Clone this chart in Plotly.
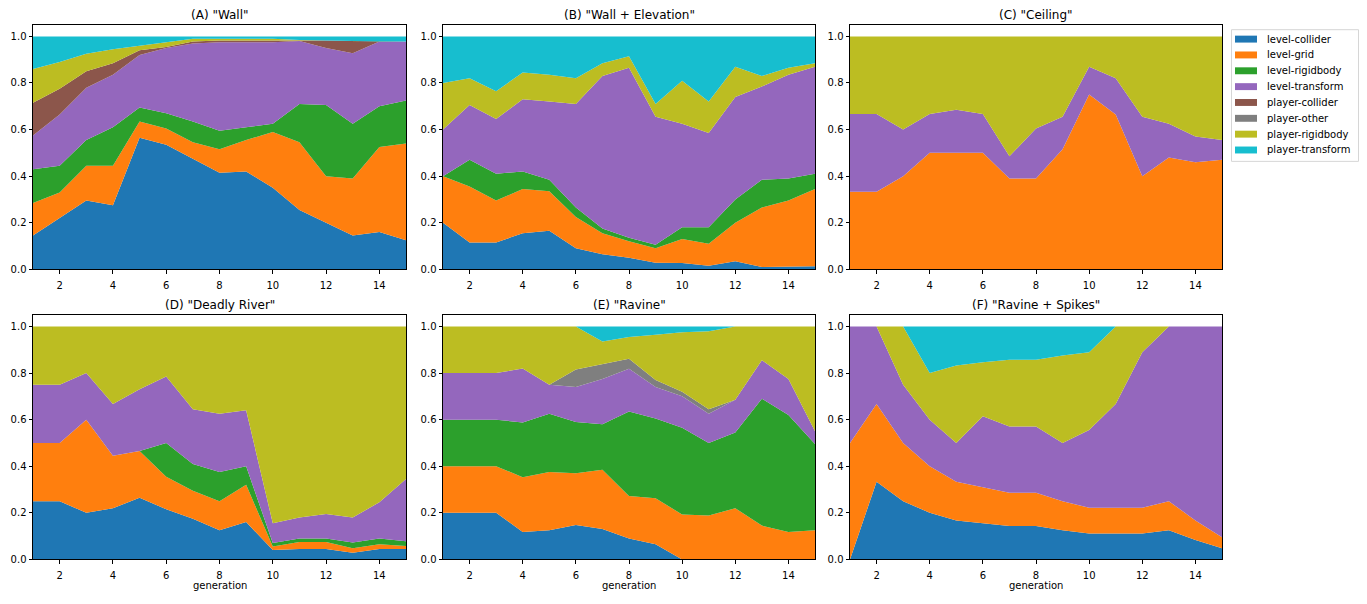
import plotly.graph_objects as go

generations = list(range(1, 16))
series_names = ["level-collider", "level-grid", "level-rigidbody", "level-transform",
                "player-collider", "player-other", "player-rigidbody", "player-transform"]
colors = ["#1f77b4", "#ff7f0e", "#2ca02c", "#9467bd", "#8c564b", "#7f7f7f", "#bcbd22", "#17becf"]
titles = ['(A) "Wall"', '(B) "Wall + Elevation"', '(C) "Ceiling"',
          '(D) "Deadly River"', '(E) "Ravine"', '(F) "Ravine + Spikes"']
x_ticks = [2, 4, 6, 8, 10, 12, 14]
y_ticks = [0.0, 0.2, 0.4, 0.6, 0.8, 1.0]

# cumulative (stacked) upper boundary of each series; None = series absent
panel_A = {
    "level-collider":   [0.145, 0.22, 0.295, 0.275, 0.565, 0.535, 0.475, 0.415, 0.42, 0.35, 0.255, 0.20, 0.145, 0.16, 0.125],
    "level-grid":       [0.285, 0.33, 0.445, 0.445, 0.635, 0.605, 0.545, 0.515, 0.555, 0.59, 0.545, 0.40, 0.39, 0.525, 0.54],
    "level-rigidbody":  [0.43, 0.445, 0.555, 0.61, 0.695, 0.67, 0.635, 0.595, 0.61, 0.625, 0.71, 0.705, 0.625, 0.70, 0.725],
    "level-transform":  [0.575, 0.665, 0.78, 0.835, 0.92, 0.95, 0.97, 0.975, 0.975, 0.975, 0.98, 0.95, 0.928, 0.978, 0.978],
    "player-collider":  [0.715, 0.775, 0.85, 0.885, 0.94, 0.955, 0.978, 0.982, 0.982, 0.982, 0.985, 0.982, 0.98, 0.978, 0.978],
    "player-other":     None,
    "player-rigidbody": [0.86, 0.89, 0.925, 0.945, 0.96, 0.975, 0.99, 0.99, 0.99, 0.99, 0.985, 0.982, 0.98, 0.978, 0.978],
    "player-transform": [1.0] * 15,
}
panel_B = {
    "level-collider":   [0.20, 0.115, 0.115, 0.155, 0.165, 0.09, 0.065, 0.05, 0.028, 0.027, 0.015, 0.035, 0.01, 0.012, 0.013],
    "level-grid":       [0.40, 0.355, 0.295, 0.345, 0.335, 0.225, 0.155, 0.12, 0.09, 0.13, 0.11, 0.20, 0.265, 0.295, 0.345],
    "level-rigidbody":  [0.40, 0.47, 0.41, 0.42, 0.385, 0.265, 0.175, 0.135, 0.105, 0.18, 0.18, 0.30, 0.385, 0.39, 0.41],
    "level-transform":  [0.60, 0.705, 0.645, 0.73, 0.72, 0.71, 0.83, 0.865, 0.655, 0.625, 0.585, 0.74, 0.785, 0.835, 0.87],
    "player-collider":  None,
    "player-other":     None,
    "player-rigidbody": [0.80, 0.82, 0.765, 0.845, 0.835, 0.82, 0.885, 0.915, 0.71, 0.81, 0.72, 0.87, 0.83, 0.865, 0.885],
    "player-transform": [1.0] * 15,
}
panel_C = {
    "level-collider":   None,
    "level-grid":       [0.333, 0.333, 0.40, 0.50, 0.50, 0.50, 0.39, 0.39, 0.515, 0.75, 0.665, 0.40, 0.48, 0.46, 0.47],
    "level-rigidbody":  None,
    "level-transform":  [0.667, 0.667, 0.60, 0.667, 0.685, 0.667, 0.485, 0.605, 0.655, 0.87, 0.82, 0.655, 0.625, 0.57, 0.555],
    "player-collider":  None,
    "player-other":     None,
    "player-rigidbody": [1.0] * 15,
    "player-transform": None,
}
panel_D = {
    "level-collider":   [0.25, 0.25, 0.20, 0.22, 0.265, 0.215, 0.175, 0.125, 0.16, 0.04, 0.045, 0.045, 0.028, 0.045, 0.045],
    "level-grid":       [0.50, 0.50, 0.60, 0.445, 0.465, 0.355, 0.295, 0.25, 0.32, 0.055, 0.075, 0.075, 0.048, 0.065, 0.058],
    "level-rigidbody":  [0.50, 0.50, 0.60, 0.445, 0.465, 0.50, 0.41, 0.375, 0.40, 0.07, 0.09, 0.09, 0.072, 0.09, 0.078],
    "level-transform":  [0.75, 0.75, 0.80, 0.667, 0.73, 0.785, 0.645, 0.625, 0.64, 0.155, 0.18, 0.195, 0.18, 0.245, 0.345],
    "player-collider":  None,
    "player-other":     None,
    "player-rigidbody": [1.0] * 15,
    "player-transform": None,
}
panel_E = {
    "level-collider":   [0.20, 0.20, 0.20, 0.118, 0.125, 0.148, 0.13, 0.09, 0.065, 0.0, 0.0, 0.0, 0.0, 0.0, 0.0],
    "level-grid":       [0.40, 0.40, 0.40, 0.353, 0.375, 0.37, 0.385, 0.272, 0.262, 0.193, 0.188, 0.22, 0.145, 0.118, 0.125],
    "level-rigidbody":  [0.60, 0.60, 0.60, 0.588, 0.625, 0.59, 0.58, 0.635, 0.605, 0.565, 0.50, 0.545, 0.69, 0.62, 0.495],
    "level-transform":  [0.80, 0.80, 0.80, 0.82, 0.75, 0.74, 0.775, 0.818, 0.74, 0.70, 0.625, 0.685, 0.855, 0.775, 0.55],
    "player-collider":  None,
    "player-other":     [0.80, 0.80, 0.80, 0.82, 0.75, 0.815, 0.838, 0.862, 0.77, 0.72, 0.645, 0.685, 0.855, 0.775, 0.55],
    "player-rigidbody": [1.0, 1.0, 1.0, 1.0, 1.0, 1.0, 0.935, 0.955, 0.965, 0.975, 0.98, 1.0, 1.0, 1.0, 1.0],
    "player-transform": [1.0] * 15,
}
panel_F = {
    "level-collider":   [0.0, 0.333, 0.25, 0.20, 0.167, 0.154, 0.143, 0.143, 0.125, 0.111, 0.111, 0.111, 0.125, 0.083, 0.048],
    "level-grid":       [0.50, 0.667, 0.50, 0.40, 0.333, 0.308, 0.286, 0.286, 0.25, 0.222, 0.222, 0.222, 0.25, 0.167, 0.095],
    "level-rigidbody":  None,
    "level-transform":  [1.0, 1.0, 0.75, 0.60, 0.50, 0.615, 0.571, 0.571, 0.50, 0.556, 0.667, 0.889, 1.0, 1.0, 1.0],
    "player-collider":  None,
    "player-other":     None,
    "player-rigidbody": [1.0, 1.0, 1.0, 0.80, 0.833, 0.846, 0.857, 0.857, 0.875, 0.889, 1.0, 1.0, 1.0, 1.0, 1.0],
    "player-transform": [1.0] * 15,
}
panels = [panel_A, panel_B, panel_C, panel_D, panel_E, panel_F]

W, H = 1367, 604
col_px = [(33, 406), (443, 815), (850, 1222)]
row_px = [(25, 272), (318, 565)]
FONT = "DejaVu Sans"


def px_x(p):
    return p / W


def px_y(p):
    return 1 - p / H


fig = go.Figure()
for i, panel in enumerate(panels):
    r, c = divmod(i, 3)
    ax = "" if i == 0 else str(i + 1)
    xa, ya = "x" + ax, "y" + ax
    first = True
    for k, name in enumerate(series_names):
        vals = panel[name]
        if vals is None:
            continue
        fig.add_trace(go.Scatter(
            x=generations, y=vals, mode="lines", line=dict(width=0, color=colors[k]),
            fill="tozeroy" if first else "tonexty", fillcolor=colors[k],
            name=name, showlegend=False, xaxis=xa, yaxis=ya, hoverinfo="x+y+name"))
        first = False
    x0, x1 = col_px[c]
    y0, y1 = row_px[r]
    axis_common = dict(showline=True, mirror=True, linecolor="black", linewidth=1,
                       ticks="outside", ticklen=3.5, tickwidth=0.8, tickcolor="black",
                       showgrid=False, zeroline=False,
                       tickfont=dict(family=FONT, size=10, color="black"))
    fig.layout["xaxis" + ax] = dict(
        domain=[px_x(x0), px_x(x1)], range=[1, 15], tickvals=x_ticks,
        anchor=ya, ticklabelstandoff=3, **axis_common)
    fig.layout["yaxis" + ax] = dict(
        domain=[px_y(y1), px_y(y0)], range=[0, 1.05],
        tickvals=y_ticks, tickformat=".1f", anchor=xa, **axis_common)
    fig.add_annotation(text=titles[i], x=px_x((x0 + x1) / 2), y=px_y(y0 - 9.5),
                       xref="paper", yref="paper", xanchor="center", yanchor="middle",
                       showarrow=False, font=dict(family=FONT, size=12, color="black"))
    if r == 1:
        fig.add_annotation(text="generation", x=px_x((x0 + x1) / 2), y=px_y(591.5),
                           xref="paper", yref="paper", xanchor="center", yanchor="middle",
                           showarrow=False, font=dict(family=FONT, size=10, color="black"))

# legend drawn by hand to match matplotlib's compact spacing
shapes = [dict(type="rect", xref="paper", yref="paper",
               x0=px_x(1231.5), x1=px_x(1358.5), y0=px_y(163), y1=px_y(30),
               line=dict(color="#d6d6d6", width=1), fillcolor="white", layer="above")]
for k, name in enumerate(series_names):
    yc = 39.5 + 16 * k
    shapes.append(dict(type="rect", xref="paper", yref="paper",
                       x0=px_x(1235), x1=px_x(1257), y0=px_y(yc + 3.5), y1=px_y(yc - 3.5),
                       line=dict(width=0), fillcolor=colors[k], layer="above"))
    fig.add_annotation(text=name, x=px_x(1265), y=px_y(yc), xref="paper", yref="paper",
                       xanchor="left", yanchor="middle", showarrow=False,
                       font=dict(family=FONT, size=10, color="black"))

fig.update_layout(
    width=W, height=H, margin=dict(l=0, r=0, t=0, b=0),
    paper_bgcolor="white", plot_bgcolor="white", showlegend=False, shapes=shapes,
)
fig.write_html("out.html")
